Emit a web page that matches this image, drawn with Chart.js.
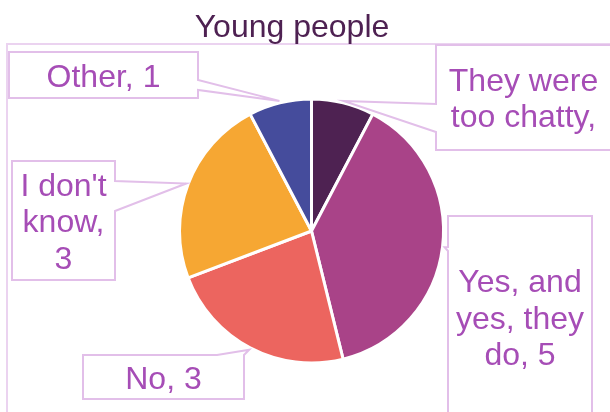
<!DOCTYPE html>
<html>
<head>
<meta charset="utf-8">
<script src="https://cdn.jsdelivr.net/npm/chart.js@4/dist/chart.umd.min.js"></script>
<style>
  html, body { margin: 0; padding: 0; background: #ffffff; }
  canvas { display: block; }
</style>
</head>
<body>
<canvas id="c" width="610" height="412"></canvas>
<script>
const chartTitle = "Young people";
const categories = ["They were too chatty", "Yes, and yes, they do", "No", "I don't know", "Other"];
const counts = [1, 5, 3, 3, 1];
const sliceColors = ["#4E2252", "#A94388", "#EC655F", "#F6A733", "#454C9C"];

// Callout boxes, one per slice (same order as categories).
// side/a/b: which edge carries the pointer and where its base starts and ends.
const callouts = [
  { x: 436, y: 45,  w: 175, h: 105, side: "left",  a: 104, b: 132 },
  { x: 448, y: 216, w: 144, h: 202, side: "left",  a: 247, b: 251 },
  { x: 83,  y: 355, w: 161, h: 44,  side: "top",   a: 217, b: 244 },
  { x: 12,  y: 161, w: 103, h: 119, side: "right", a: 181, b: 211 },
  { x: 9,   y: 52,  w: 189, h: 46,  side: "right", a: 80,  b: 90 }
];

const FONT = "'Liberation Sans', Arial, sans-serif";
const FONT_SIZE = 32;
const LABEL_COLOR = "#A64DB6";
const BOX_COLOR = "#E2BFE9";
const FRAME_COLOR = "#EBD3F0";
const LINE_H = 36.5;

function wrapWords(ctx, text, maxW) {
  const words = text.split(" ");
  const lines = [];
  let cur = "";
  for (const w of words) {
    const test = cur ? cur + " " + w : w;
    if (cur && ctx.measureText(test).width > maxW) {
      lines.push(cur);
      cur = w;
    } else {
      cur = test;
    }
  }
  if (cur) lines.push(cur);
  return lines;
}

function calloutPath(ctx, c, tip) {
  const { x, y, w, h, side, a, b } = c;
  ctx.beginPath();
  ctx.moveTo(x, y);
  if (side === "top") { ctx.lineTo(a, y); ctx.lineTo(tip.x, tip.y); ctx.lineTo(b, y); }
  ctx.lineTo(x + w, y);
  if (side === "right") { ctx.lineTo(x + w, a); ctx.lineTo(tip.x, tip.y); ctx.lineTo(x + w, b); }
  ctx.lineTo(x + w, y + h);
  ctx.lineTo(x, y + h);
  if (side === "left") { ctx.lineTo(x, b); ctx.lineTo(tip.x, tip.y); ctx.lineTo(x, a); }
  ctx.closePath();
}

const decorations = {
  id: "decorations",
  beforeDraw(chart) {
    const ctx = chart.ctx;
    ctx.save();
    ctx.fillStyle = "#ffffff";
    ctx.fillRect(0, 0, chart.width, chart.height);
    // outer plot frame
    ctx.strokeStyle = FRAME_COLOR;
    ctx.lineWidth = 2;
    ctx.strokeRect(7, 44, 700, 500);
    // title
    ctx.fillStyle = "#4E2152";
    ctx.font = FONT_SIZE + "px " + FONT;
    ctx.textAlign = "center";
    ctx.textBaseline = "alphabetic";
    ctx.fillText(chartTitle, 292, 37);
    ctx.restore();
  },
  afterDraw(chart) {
    const ctx = chart.ctx;
    const meta = chart.getDatasetMeta(0);
    ctx.save();
    ctx.font = FONT_SIZE + "px " + FONT;
    ctx.textAlign = "center";
    ctx.textBaseline = "alphabetic";
    meta.data.forEach((arc, i) => {
      const c = callouts[i];
      const p = arc.getProps(["x", "y", "startAngle", "endAngle", "outerRadius"], true);
      const mid = (p.startAngle + p.endAngle) / 2;
      const tip = {
        x: p.x + Math.cos(mid) * (p.outerRadius + 2),
        y: p.y + Math.sin(mid) * (p.outerRadius + 2)
      };
      calloutPath(ctx, c, tip);
      ctx.fillStyle = "#ffffff";
      ctx.fill();
      ctx.strokeStyle = BOX_COLOR;
      ctx.lineWidth = 2;
      ctx.lineJoin = "miter";
      ctx.stroke();

      const label = categories[i] + ", " + counts[i];
      let lines = wrapWords(ctx, label, c.w - 8);
      const fit = Math.max(1, Math.floor((c.h - 8) / LINE_H));
      lines = lines.slice(0, fit);
      const n = lines.length;
      const cx = c.x + c.w / 2;
      const cy = c.y + c.h / 2 + 11.5;
      ctx.fillStyle = LABEL_COLOR;
      lines.forEach((ln, k) => {
        ctx.fillText(ln, cx, cy + (k - (n - 1) / 2) * LINE_H);
      });
    });
    ctx.restore();
  }
};

new Chart(document.getElementById("c"), {
  type: "pie",
  data: {
    labels: categories,
    datasets: [{
      data: counts,
      backgroundColor: sliceColors,
      borderColor: "#ffffff",
      borderWidth: 3
    }]
  },
  options: {
    responsive: false,
    animation: false,
    devicePixelRatio: 1,
    radius: 132,
    layout: { padding: { left: 13, right: 0, top: 50, bottom: 0 } },
    plugins: {
      legend: { display: false },
      title: { display: false },
      tooltip: { enabled: false }
    }
  },
  plugins: [decorations]
});
</script>
</body>
</html>
